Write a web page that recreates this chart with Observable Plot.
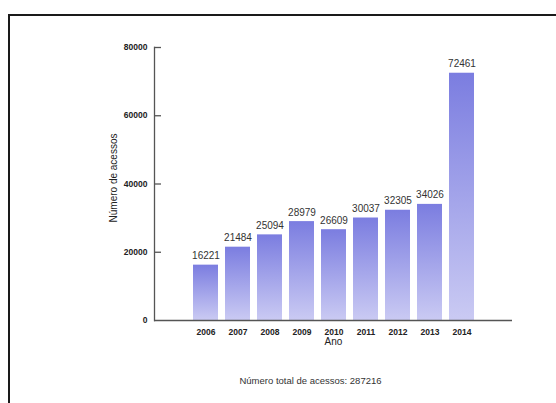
<!DOCTYPE html>
<html>
<head>
<meta charset="utf-8">
<script src="https://cdn.jsdelivr.net/npm/d3@7"></script>
<script src="https://cdn.jsdelivr.net/npm/@observablehq/plot@0.6"></script>
<style>
  html, body { margin: 0; padding: 0; background: #fff; overflow: hidden; }
  #wrap { position: relative; width: 556px; height: 403px; }
  #border { position: absolute; left: 8px; top: 14px; width: 700px; height: 600px;
            border-top: 2px solid #1a1a1a; border-left: 2px solid #1a1a1a; box-sizing: border-box; }
  #chart { position: absolute; left: 0; top: 0; }
</style>
</head>
<body>
<div id="wrap"><div id="chart"></div><div id="border"></div></div>
<script>
const years = ["2006","2007","2008","2009","2010","2011","2012","2013","2014"];
const acessos = [16221, 21484, 25094, 28979, 26609, 30037, 32305, 34026, 72461];
const yTicks = [0, 20000, 40000, 60000, 80000];
const yLabel = "Número de acessos";
const xLabel = "Ano";
const captionPrefix = "Número total de acessos: ";

const data = years.map((y, i) => ({year: y, value: acessos[i]}));
const total = d3.sum(acessos);

const gradientDefs = () => {
  const defs = d3.create("svg:defs");
  const g = defs.append("linearGradient").attr("id", "barGrad")
    .attr("x1", 0).attr("y1", 0).attr("x2", 0).attr("y2", 1);
  g.append("stop").attr("offset", "0%").attr("stop-color", "#7b7de0");
  g.append("stop").attr("offset", "100%").attr("stop-color", "#cacaf3");
  return defs.node();
};

const W = 556, H = 403, ML = 154, MR = 44, MT = 47, MB = 83;
const frameW = W - ML - MR;

const chart = Plot.plot({
  width: W,
  height: H,
  marginLeft: ML,
  marginRight: MR,
  marginTop: MT,
  marginBottom: MB,
  style: {fontFamily: "'Liberation Sans', Arial, sans-serif", background: "transparent"},
  x: {type: "band", domain: years, paddingInner: 0.23, paddingOuter: 1.14},
  y: {domain: [0, 80000]},
  marks: [
    gradientDefs,
    Plot.barY(data, {x: "year", y: "value", fill: "url(#barGrad)"}),
    Plot.frame({anchor: "left", stroke: "#555", strokeWidth: 1.3}),
    Plot.ruleY([0], {stroke: "#555", strokeWidth: 1.3}),
    Plot.ruleY(yTicks.filter(d => d > 0), {stroke: "#555", strokeWidth: 1.3, insetRight: frameW - 7}),
    Plot.axisY({ticks: yTicks, tickSize: 0, tickPadding: 7, tickFormat: d => String(d),
      fontSize: 8.5, fontWeight: "bold", fill: "#222", label: null}),
    Plot.axisX({tickSize: 0, tickPadding: 8, fontSize: 8.5, fontWeight: "bold", fill: "#222", label: null}),
    Plot.text(data, {x: "year", y: "value", text: d => String(d.value), dy: -6,
      lineAnchor: "bottom", fontSize: 10, fill: "#333"}),
    Plot.text([xLabel], {frameAnchor: "bottom", dy: 24, fontSize: 10, fill: "#222"}),
    Plot.text([yLabel], {frameAnchor: "left", textAnchor: "middle", dx: -41, dy: -6, rotate: -90, fontSize: 10, fill: "#222"}),
    Plot.text([captionPrefix + total], {frameAnchor: "bottom", dx: -23, dy: 63, fontSize: 9.5, fill: "#333"})
  ]
});
document.getElementById("chart").appendChild(chart);
</script>
</body>
</html>
